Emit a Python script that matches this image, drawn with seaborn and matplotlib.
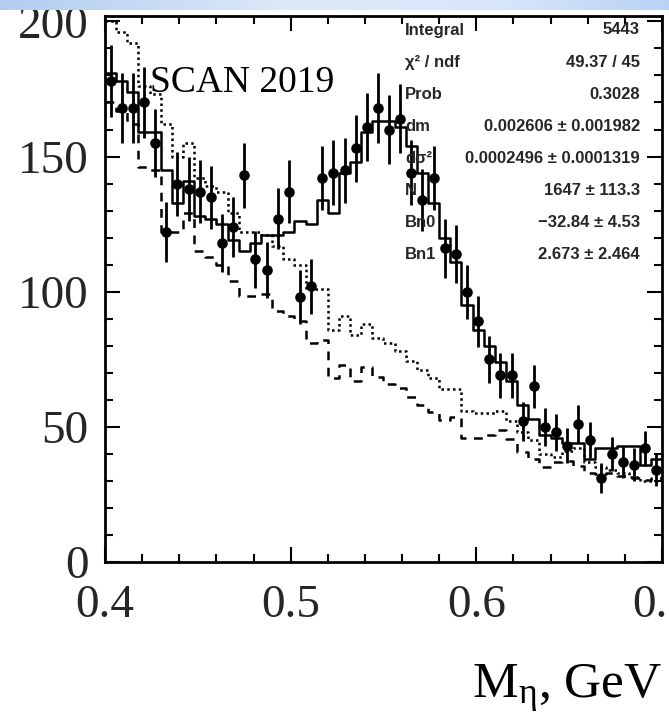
import numpy as np
import pandas as pd
import matplotlib
matplotlib.use("Agg")
import matplotlib.pyplot as plt
import seaborn as sns

# ---------------- data ----------------
x_min, x_max, n_bins = 0.4, 0.7, 50

data_counts = [178, 168, 168, 170, 155, 122, 140, 138, 137, 135,
               118, 124, 143, 112, 108, 127, 137, 98, 102, 142,
               144, 145, 153, 161, 168, 160, 164, 144, 134, 142,
               116, 114, 100, 89, 75, 69, 69, 52, 65, 50,
               48, 43, 51, 45, 31, 40, 37, 36, 42, 34]

fit_hist = [181, 178, 174, 159, 159, 145, 133, 141, 128, 127,
            125, 119, 115, 118, 121, 121, 122, 126, 125, 134,
            129, 144, 148, 159, 163, 163, 161, 154, 144, 133,
            120, 111, 95, 86, 80, 74, 67, 58, 53, 47,
            46, 44, 44, 38, 42, 42, 43, 43, 36, 38]

dotted_hist = [200, 196, 192, 176, 173, 162, 150, 155, 142, 139,
               137, 129, 122, 122, 121, 117, 112, 110, 101, 101,
               86, 91, 84, 88, 83, 81, 78, 74.5, 71, 68,
               64, 64, 56, 55, 55, 56, 52, 48, 45, 40,
               39, 41, 42, 37, 35, 34, 33, 31.5, 30, 30]

dashed_hist = [170, 167, 162, 146, 145, 122, 122, 129, 115, 113,
               110, 104, 98.5, 98.5, 99, 93, 91, 89, 81, 82,
               68, 73, 67, 72, 68.5, 66, 64.5, 61, 58, 55.5,
               52.5, 53.5, 46, 46, 47, 48.7, 45.5, 40.7, 38, 35,
               37, 37.5, 35.5, 33, 32.5, 33, 32, 31, 30.3, 31]

stat_labels = ["Integral", "χ² / ndf", "Prob", "dm", "dσ²", "N", "Bn0", "Bn1"]
stat_values = ["5443", "49.37 / 45", "0.3028", "0.002606 ± 0.001982",
               "0.0002496 ± 0.0001319", "1647 ± 113.3", "−32.84 ± 4.53",
               "2.673 ± 2.464"]

x_ticks = [0.4, 0.5, 0.6, 0.7]
x_ticklabels = ["0.4", "0.5", "0.6", "0.7"]
y_ticks = [0, 50, 100, 150, 200]
y_ticklabels = ["0", "50", "100", "150", "200"]

# ---------------- frame ----------------
edges = np.linspace(x_min, x_max, n_bins + 1)
centers = 0.5 * (edges[:-1] + edges[1:])
bin_list = edges.tolist()
df = pd.DataFrame({"x": centers, "data": data_counts, "fit": fit_hist,
                   "dotted": dotted_hist, "dashed": dashed_hist})
df["err"] = np.sqrt(df["data"])

sns.set_style("ticks")
plt.rcParams["font.family"] = ["Liberation Serif", "DejaVu Serif"]
plt.rcParams["mathtext.fontset"] = "custom"
plt.rcParams["mathtext.rm"] = "Liberation Serif"
plt.rcParams["mathtext.it"] = "Liberation Serif"

W, H = 669, 712
fig = plt.figure(figsize=(W / 100, H / 100), dpi=100)
fig.patch.set_facecolor("white")
ax = fig.add_axes([105 / W, 1 - 562 / H, 557 / W, 546 / H])
ax.set_facecolor("white")

lw = 1.8
sns.histplot(data=df, x="x", weights="dotted", bins=bin_list, element="step",
             fill=False, color="black", linewidth=lw, linestyle=(0, (1, 1.3)), ax=ax)
sns.histplot(data=df, x="x", weights="dashed", bins=bin_list, element="step",
             fill=False, color="black", linewidth=lw, linestyle=(0, (3.5, 3)), ax=ax)
sns.histplot(data=df, x="x", weights="fit", bins=bin_list, element="step",
             fill=False, color="black", linewidth=lw, ax=ax)

ax.errorbar(df["x"], df["data"], yerr=df["err"], fmt="none", ecolor="black",
            elinewidth=2.0, capsize=0, zorder=4)
sns.scatterplot(data=df, x="x", y="data", color="black", s=58, edgecolor="black",
                linewidth=0, zorder=5, ax=ax, legend=False)

ax.set_xlim(x_min, x_max)
ax.set_ylim(0, 202)
ax.set_xlabel("")
ax.set_ylabel("")
ax.set_xticks(x_ticks)
ax.set_xticklabels(x_ticklabels)
ax.set_yticks(y_ticks)
ax.set_yticklabels(y_ticklabels)
ax.set_xticks(np.arange(0.4, 0.7001, 0.02), minor=True)
ax.set_yticks(np.arange(0, 201, 10), minor=True)

for s in ax.spines.values():
    s.set_visible(True)
    s.set_linewidth(2.0)
    s.set_color("black")

ax.tick_params(which="both", direction="in", top=True, right=True,
               color="black", width=1.5)
ax.tick_params(which="major", length=11, labelsize=34)
ax.tick_params(which="minor", length=5.5)
ax.tick_params(axis="x", which="major", pad=16)
ax.tick_params(axis="y", which="major", pad=12)

# texts
fig.text(150 / W, 1 - 92 / H, "SCAN 2019", fontsize=27, ha="left",
         va="baseline", color="black")
fig.text(662 / W, 1 - 698 / H, r"M$_{\mathrm{η}}$, GeV", fontsize=37,
         ha="right", va="baseline", color="black")

row_y0, row_dy = 30, 32.1
for i, (lab, val) in enumerate(zip(stat_labels, stat_values)):
    yy = 1 - (row_y0 + i * row_dy) / H
    fig.text(405 / W, yy, lab, fontsize=12, fontweight="bold",
             family=["Liberation Sans", "DejaVu Sans"], ha="left", va="center")
    fig.text(640 / W, yy, val, fontsize=12, fontweight="bold",
             family=["Liberation Sans", "DejaVu Sans"], ha="right", va="center")

# slide banner at top
bax = fig.add_axes([0, 1 - 10 / H, 1, 10 / H], zorder=10)
grad_x = [0.0, 0.45, 0.75, 1.0]
grad_r = [178, 222, 215, 185]
grad_g = [205, 234, 230, 210]
grad_b = [240, 250, 250, 245]
xs = np.linspace(0, 1, 300)
img = np.stack([np.interp(xs, grad_x, grad_r), np.interp(xs, grad_x, grad_g),
                np.interp(xs, grad_x, grad_b)], axis=-1)[None, :, :] / 255.0
bax.imshow(img, aspect="auto", extent=[0, 1, 0, 1])
bax.axis("off")

fig.savefig("out.png", dpi=100)
